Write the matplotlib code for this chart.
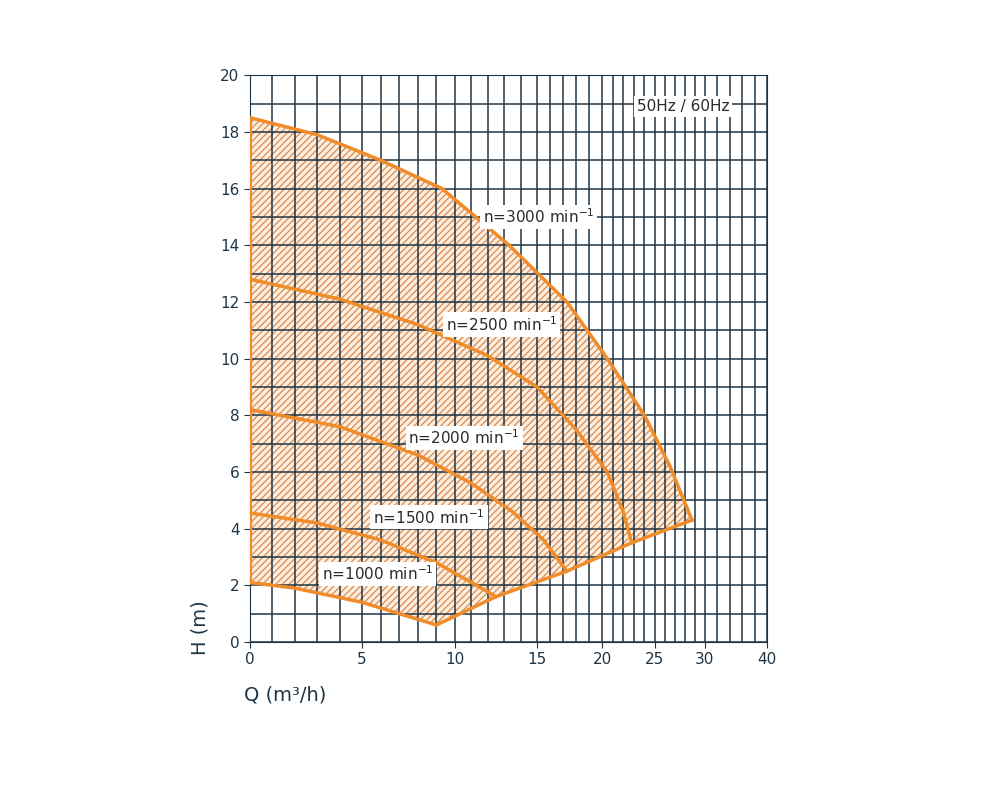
import numpy as np
import matplotlib
matplotlib.use("Agg")
import matplotlib.pyplot as plt

# x axis of the chart is compressed; tick positions
scale_q = [0, 5, 10, 15, 20, 25, 30, 40]
scale_px = [0, 112, 205, 287, 352, 405, 455, 517]

def fwd(q):
    return np.interp(q, scale_q, scale_px)

def inv(p):
    return np.interp(p, scale_px, scale_q)

q3000 = [0, 3, 6, 9.3, 13.3, 17.3, 20.5, 24, 26.5, 28.7]
h3000 = [18.5, 17.9, 17.0, 16.0, 14.0, 12.0, 10.0, 8.0, 6.2, 4.3]
q2500 = [0, 4, 8, 12, 15, 18, 20.5, 22, 22.8]
h2500 = [12.8, 12.1, 11.2, 10.1, 9.0, 7.5, 6.0, 4.6, 3.5]
q2000 = [0, 4, 8, 11, 13.5, 15.5, 17.3]
h2000 = [8.2, 7.6, 6.6, 5.6, 4.6, 3.6, 2.5]
q1500 = [0, 3, 6, 9, 11, 12.5]
h1500 = [4.55, 4.2, 3.6, 2.8, 2.1, 1.6]
q1000 = [0, 2, 5, 7.5, 9]
h1000 = [2.1, 1.9, 1.4, 0.9, 0.6]
# lower limit line
q_min = [9, 12.5, 17.3, 22.8, 28.7]
h_min = [0.6, 1.6, 2.5, 3.5, 4.3]

orange = "#f08c2a"
dark = "#1f3545"

fig = plt.figure(figsize=(10, 8), dpi=100)
ax = fig.add_axes([0.25, 0.1975, 0.517, 0.7085])
ax.set_xscale("function", functions=(fwd, inv))

# hatched area: 1000 curve, lower limit, 3000 curve back to Q=0
px = q1000 + q_min[1:] + q3000[::-1]
py = h1000 + h_min[1:] + h3000[::-1]
ax.fill(px, py, facecolor="#fdf0e2", edgecolor="none", zorder=1)
ax.fill(px, py, facecolor="none", edgecolor="#dc9258", hatch="/////", linewidth=0, zorder=1)

# grid
for q in list(range(0, 31)) + [32, 34, 36, 38, 40]:
    ax.axvline(q, color=dark, lw=1.1, zorder=2)
for h in range(0, 21):
    ax.axhline(h, color=dark, lw=1.1, zorder=2)

for q, h in [(q3000, h3000), (q2500, h2500), (q2000, h2000), (q1500, h1500), (q1000, h1000), (q_min, h_min)]:
    ax.plot(q, h, color=orange, lw=2.5, zorder=3, solid_joinstyle="round")
ax.plot([0, 0], [2.1, 18.5], color=orange, lw=3, zorder=3)

box = dict(facecolor="white", edgecolor="none", pad=2)
labels = [(11.7, 15.0, "3000"), (9.5, 11.2, "2500"), (7.5, 7.2, "2000"), (5.6, 4.4, "1500"), (3.2, 2.4, "1000")]
for q, h, n in labels:
    ax.text(q, h, "n=" + n + " min$^{-1}$", fontsize=11, color="#2a2a2a", ha="left", va="center", bbox=box, zorder=4)
ax.text(27.8, 18.9, "50Hz / 60Hz", fontsize=11, color="#2a2a2a", ha="center", va="center", bbox=box, zorder=4)

ax.set_xlim(0, 40)
ax.set_ylim(0, 20)
ax.set_xticks(scale_q)
ax.set_xticklabels([str(v) for v in scale_q])
ax.set_yticks(range(0, 21, 2))
ax.tick_params(colors=dark, labelsize=11, length=4)
for s in ax.spines.values():
    s.set_color(dark)
fig.text(0.20, 0.215, "H (m)", rotation=90, fontsize=14, color=dark, ha="center", va="center")
fig.text(0.285, 0.131, "Q (m³/h)", fontsize=14, color=dark, ha="center", va="center")

fig.savefig("out.png")
